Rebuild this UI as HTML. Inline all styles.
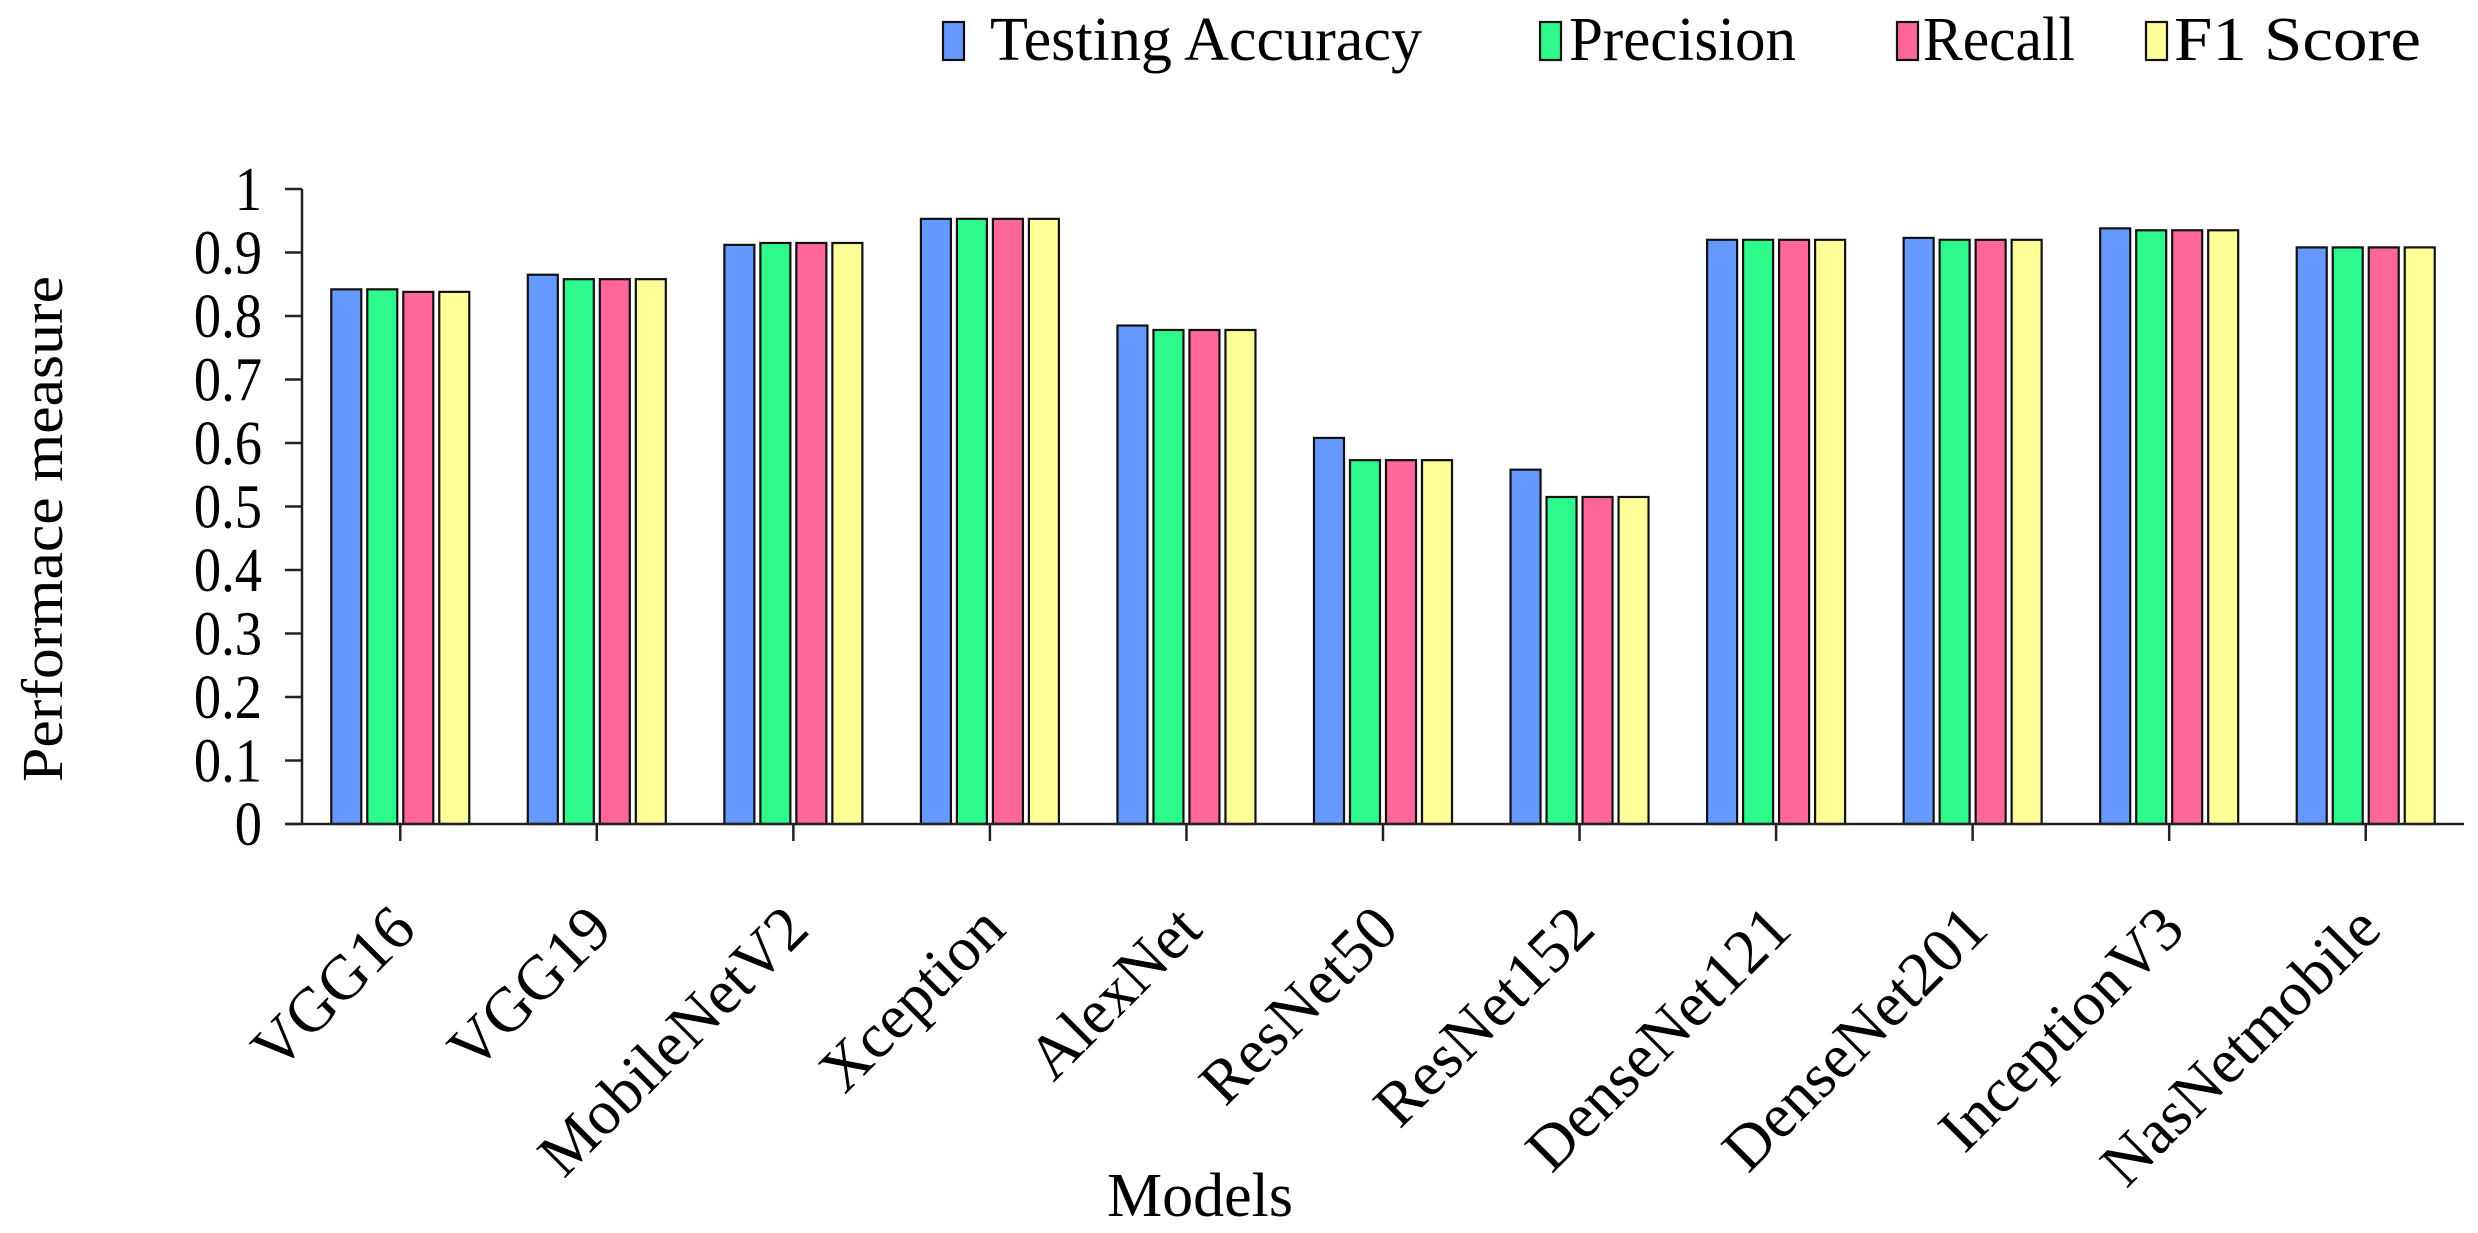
<!DOCTYPE html>
<html><head><meta charset="utf-8"><style>
html,body{margin:0;padding:0;background:#fff;}
svg{display:block;font-family:"Liberation Serif",serif;}
</style></head><body>
<svg id="chart" width="2478" height="1233" viewBox="0 0 2478 1233" xmlns="http://www.w3.org/2000/svg">
<g id="legend"></g>
<g id="bars"></g>
<g id="axes"></g>
<text transform="translate(62,529) rotate(-90)" text-anchor="middle" font-size="58" textLength="506" lengthAdjust="spacingAndGlyphs">Performace measure</text>
<text x="1200" y="1216" text-anchor="middle" font-size="62" textLength="186" lengthAdjust="spacingAndGlyphs">Models</text>
</svg>
<script>
const categories = ["VGG16","VGG19","MobileNetV2","Xception","AlexNet","ResNet50","ResNet152","DenseNet121","DenseNet201","InceptionV3","NasNetmobile"];
const seriesNames = ["Testing Accuracy","Precision","Recall","F1 Score"];
const testingAccuracy = [0.842,0.865,0.912,0.953,0.785,0.608,0.558,0.920,0.923,0.938,0.908];
const precision       = [0.842,0.858,0.915,0.953,0.778,0.573,0.515,0.920,0.920,0.935,0.908];
const recall          = [0.838,0.858,0.915,0.953,0.778,0.573,0.515,0.920,0.920,0.935,0.908];
const f1Score         = [0.838,0.858,0.915,0.953,0.778,0.573,0.515,0.920,0.920,0.935,0.908];
const yTicks = [0,0.1,0.2,0.3,0.4,0.5,0.6,0.7,0.8,0.9,1];
const yTickLabels = ["0","0.1","0.2","0.3","0.4","0.5","0.6","0.7","0.8","0.9","1"];

const NS="http://www.w3.org/2000/svg";
const colors=["#6699ff","#2efa8c","#ff6699","#ffff99"];
const series=[testingAccuracy,precision,recall,f1Score];
const X0=302, X1=2464, Y0=824, Y1=189;
const band=(X1-X0)/categories.length;
function xCenter(i){return X0+band*(i+0.5);}
function yScale(v){return Y0-(v-0)/(1-0)*(Y0-Y1);}
function mk(tag,attrs,parent){const e=document.createElementNS(NS,tag);for(const k in attrs)e.setAttribute(k,attrs[k]);parent.appendChild(e);return e;}

const barsG=document.getElementById('bars');
const barW=30, pitch=36;
categories.forEach((c,i)=>{
  series.forEach((s,j)=>{
    const x=xCenter(i)+(j-1.5)*pitch-barW/2;
    const y=yScale(s[i]);
    const r=mk('rect',{x:x,y:y,width:barW,height:Y0-y,fill:colors[j],stroke:"#111",'stroke-width':2.2},barsG);
    
    
  });
});

const axes=document.getElementById('axes');
const ya=mk('line',{x1:X0,y1:Y1,x2:X0,y2:Y0,stroke:"#222",'stroke-width':2.5},axes);


const xa=mk('line',{x1:X0-17,y1:Y0,x2:X1,y2:Y0,stroke:"#222",'stroke-width':2.5},axes);


yTicks.forEach((t,k)=>{
  const y=yScale(t);
  const l=mk('line',{x1:X0-17,y1:y,x2:X0,y2:y,stroke:"#222",'stroke-width':2.5},axes);
  
  
  const tx=mk('text',{transform:'translate(262,'+(y+21)+') scale(0.88,1)','text-anchor':'end','font-size':62},axes);
  tx.textContent=yTickLabels[k];
  
  
});
categories.forEach((c,i)=>{
  const x=xCenter(i);
  const l=mk('line',{x1:x,y1:Y0,x2:x,y2:Y0+17,stroke:"#222",'stroke-width':2.5},axes);
  
  
  const tx=mk('text',{transform:'translate('+(x+18)+','+(Y0+108)+') rotate(-45)','text-anchor':'end','font-size':63},axes);
  tx.textContent=c;
  
  
});

const legend=document.getElementById('legend');
const legendX=[943,1540,1897,2146];
const legendTextX=[990,1569,1923,2174];
const legendTextW=[432,227,152,247];
seriesNames.forEach((n,j)=>{
  const r=mk('rect',{x:legendX[j],y:22,width:21,height:38,fill:colors[j],stroke:"#111",'stroke-width':2.2},legend);
  
  
  const t=mk('text',{x:legendTextX[j],y:60,'font-size':62,textLength:legendTextW[j],lengthAdjust:'spacingAndGlyphs'},legend);
  t.textContent=n;
  
  
});
</script>
</body></html>
